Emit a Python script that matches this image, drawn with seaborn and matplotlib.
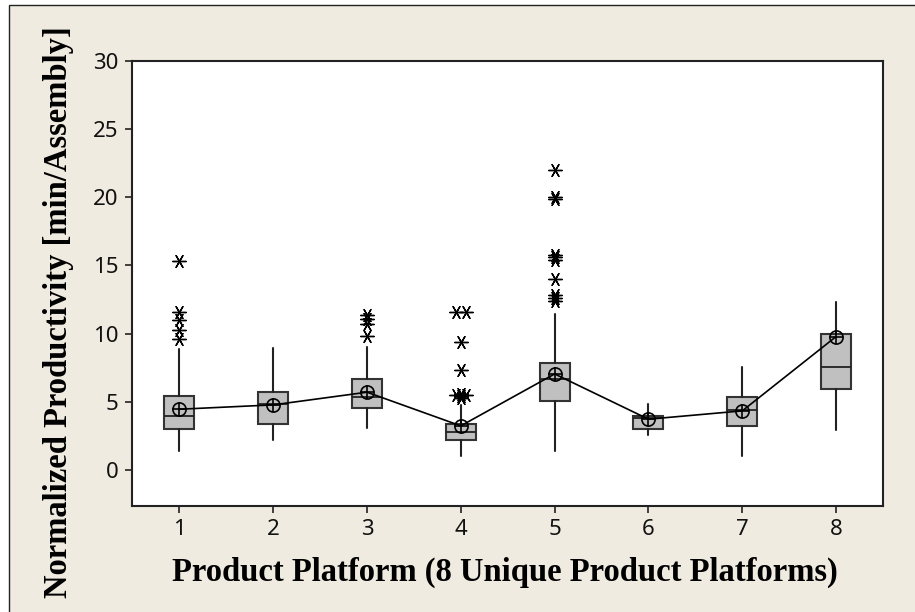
import numpy as np
import pandas as pd
import matplotlib
matplotlib.use("Agg")
import matplotlib.pyplot as plt
from matplotlib.patches import Rectangle
import seaborn as sns

# box statistics, one entry per platform
platforms = [1, 2, 3, 4, 5, 6, 7, 8]
q1 = [3.0, 3.35, 4.53, 2.2, 5.09, 2.98, 3.25, 5.92]
medians = [3.96, 4.85, 5.35, 2.81, 6.7, 3.84, 4.4, 7.56]
q3 = [5.45, 5.7, 6.65, 3.35, 7.83, 3.96, 5.33, 10.0]
whisk_lo = [1.39, 2.2, 3.1, 1.05, 1.35, 2.57, 1.03, 2.93]
whisk_hi = [8.86, 8.93, 9.05, 4.77, 11.42, 4.84, 7.53, 12.3]
means = [4.45, 4.77, 5.7, 3.23, 7.04, 3.72, 4.33, 9.78]
outliers = {
    1: [15.3, 11.6, 11.0, 10.3, 9.6],
    2: [],
    3: [11.4, 11.1, 10.7, 9.8],
    4: [11.6, 11.6, 9.4, 7.3, 5.6, 5.5, 5.5, 5.4, 5.3],
    5: [22.0, 20.0, 19.9, 15.8, 15.6, 15.4, 14.0, 12.8, 12.6, 12.4],
    6: [],
    7: [],
    8: [],
}
y_ticks = [0, 5, 10, 15, 20, 25, 30]

sns.set_style("ticks")
plt.rcParams["font.family"] = ["Noto Sans", "DejaVu Sans"]

fig = plt.figure(figsize=(9.15, 6.12), dpi=100, facecolor="white")
# beige panel with thin frame like the original export
fig.patches.append(Rectangle((9 / 915, -0.1), 1.2, 1.1 - 5 / 612,
                             transform=fig.transFigure, facecolor="#EFEBE0",
                             edgecolor="#222222", linewidth=1.0, zorder=-10))
ax = fig.add_axes([0.1448, 0.1732, 0.8202, 0.7271])
ax.set_facecolor("white")

stats = []
for i, p in enumerate(platforms):
    stats.append({"q1": q1[i], "med": medians[i], "q3": q3[i],
                  "whislo": whisk_lo[i], "whishi": whisk_hi[i],
                  "mean": means[i], "fliers": [], "label": str(p)})

ax.bxp(stats, positions=platforms, widths=0.32, patch_artist=True,
       showcaps=False, showfliers=False, showmeans=False,
       boxprops=dict(facecolor="#C0C0C0", edgecolor="#333333", linewidth=1.5),
       medianprops=dict(color="#222222", linewidth=1.3),
       whiskerprops=dict(color="#222222", linewidth=1.5))

# outliers, ties shown side by side
rows = []
for p, vals in outliers.items():
    counts = pd.Series(vals).value_counts() if vals else pd.Series(dtype=int)
    seen = {}
    for v in vals:
        n = counts[v]
        k = seen.get(v, 0)
        seen[v] = k + 1
        rows.append({"x": p + (k - (n - 1) / 2) * 0.1, "y": v})
out_df = pd.DataFrame(rows)
sns.scatterplot(data=out_df, x="x", y="y", marker=(6, 2, 90), s=95,
                color="black", linewidth=1.0, ax=ax, zorder=4)

# mean symbols connected by a line
mean_df = pd.DataFrame({"platform": platforms, "mean": means})
sns.lineplot(data=mean_df, x="platform", y="mean", color="black", linewidth=1.2,
             marker="o", markersize=9.5, markerfacecolor="none",
             markeredgecolor="black", markeredgewidth=1.2, ax=ax, zorder=5)
sns.scatterplot(data=mean_df, x="platform", y="mean", marker="+", s=95,
                color="black", linewidth=1.2, ax=ax, zorder=6)

ax.set_xlim(0.5, 8.5)
ax.set_ylim(-2.65, 30)
ax.set_xticks(platforms)
ax.set_xticklabels([str(p) for p in platforms])
ax.set_yticks(y_ticks)
ax.tick_params(axis="both", direction="out", length=5, width=1.2,
               color="#222222", labelsize=16, labelcolor="#111111")
ax.tick_params(axis="x", pad=4)
ax.tick_params(axis="y", pad=5)
for side in ["left", "bottom", "top", "right"]:
    ax.spines[side].set_visible(True)
    ax.spines[side].set_linewidth(1.5)
    ax.spines[side].set_color("#222222")
ax.set_xlabel("")
ax.set_ylabel("")

label_font = dict(family=["Liberation Serif", "DejaVu Serif"], weight="bold",
                  size=23.5, color="black")
fig.text(505 / 915, 1 - 572 / 612,
         "Product Platform (8 Unique Product Platforms)",
         ha="center", va="center", **label_font)
fig.text(59 / 915, 1 - 312 / 612, "Normalized Productivity [min/Assembly]",
         ha="center", va="center", rotation=90, **label_font)

fig.savefig("out.png", dpi=100, facecolor=fig.get_facecolor())
